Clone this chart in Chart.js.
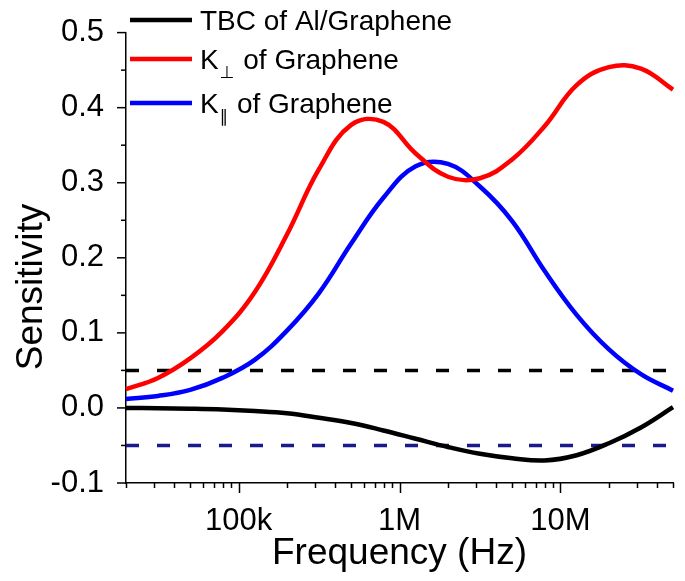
<!DOCTYPE html>
<html>
<head>
<meta charset="utf-8">
<script src="https://cdn.jsdelivr.net/npm/chart.js@4.4.1/dist/chart.umd.min.js"></script>
<style>
  html, body { margin: 0; padding: 0; background: #fff; }
  #wrap { width: 685px; height: 581px; }
</style>
</head>
<body>
<div id="wrap"><canvas id="sensChart"></canvas></div>
<script>
// frequency sweep (Hz), five points per decade, and the sensitivities read at each
const freqs = [2e4, 3.16e4, 5.01e4, 7.94e4, 1.26e5, 2e5, 3.16e5, 5.01e5, 7.94e5,
               1.26e6, 2e6, 3.16e6, 5.01e6, 7.94e6, 1.26e7, 2e7, 3.16e7, 5e7];
const tbcAl = [0.000, -0.0005, -0.001, -0.002, -0.004, -0.007, -0.013, -0.020, -0.030,
               -0.041, -0.052, -0.061, -0.067, -0.070, -0.063, -0.047, -0.026, 0.001];
const kPerp = [0.025, 0.040, 0.066, 0.102, 0.154, 0.231, 0.318, 0.377, 0.381,
               0.339, 0.308, 0.306, 0.331, 0.375, 0.430, 0.454, 0.452, 0.424];
const kPara = [0.012, 0.016, 0.024, 0.040, 0.064, 0.103, 0.153, 0.219, 0.280,
               0.322, 0.325, 0.295, 0.249, 0.183, 0.124, 0.078, 0.045, 0.023];
const seriesLabels = ['TBC of Al/Graphene', 'K⊥ of Graphene', 'K∥ of Graphene'];
const seriesColors = ['#000000', '#ff0000', '#0000ff'];

// ±0.05 guide lines
const thresholds = [0.05, -0.05];
const thresholdColors = ['#000000', '#1a1a8a'];

// axis ticks
const majorFreqs = [1e5, 1e6, 1e7];
const majorFreqLabels = ['100k', '1M', '10M'];
const yTickValues = [-0.1, 0.0, 0.1, 0.2, 0.3, 0.4, 0.5];
const yTickLabels = ['-0.1', '0.0', '0.1', '0.2', '0.3', '0.4', '0.5'];

const FONT = '"Liberation Sans", Arial, "DejaVu Sans", sans-serif';

const xTickValues = [];
[1e4, 1e5, 1e6, 1e7].forEach(d => {
  for (let m = 1; m <= 9; m++) {
    const v = m * d;
    if (v >= freqs[0] && v <= freqs[freqs.length - 1]) xTickValues.push(v);
  }
});

const toPoints = vals => freqs.map((f, i) => ({ x: f, y: vals[i] }));
const ends = [freqs[0], freqs[freqs.length - 1]];

const curveSets = [tbcAl, kPerp, kPara].map((vals, i) => ({
  label: seriesLabels[i],
  data: toPoints(vals),
  borderColor: seriesColors[i],
  borderWidth: 4.5,
  pointRadius: 0,
  tension: 0.4,
  clip: false
}));
const guideSets = thresholds.map((t, i) => ({
  label: 'guide' + i,
  data: ends.map(f => ({ x: f, y: t })),
  borderColor: thresholdColors[i],
  borderWidth: 3.5,
  borderDash: [13, 18],
  pointRadius: 0,
  clip: false
}));

// tick marks (major + minor), the y title and the in-plot legend
const decorations = {
  id: 'decorations',
  afterDraw(chart) {
    const ctx = chart.ctx;
    const xs = chart.scales.x, ys = chart.scales.y;
    const area = chart.chartArea;
    ctx.save();
    ctx.strokeStyle = '#000';
    ctx.lineWidth = 1.5;
    xTickValues.forEach(v => {
      const px = Math.round(xs.getPixelForValue(v)) + 0.5;
      const len = majorFreqs.includes(v) ? 10 : 5;
      ctx.beginPath();
      ctx.moveTo(px, area.bottom);
      ctx.lineTo(px, area.bottom + len);
      ctx.stroke();
    });
    yTickValues.forEach((v, i) => {
      const py = ys.getPixelForValue(v);
      ctx.beginPath();
      ctx.moveTo(area.left, py);
      ctx.lineTo(area.left - 9, py);
      ctx.stroke();
      if (i < yTickValues.length - 1) {
        const pm = ys.getPixelForValue((v + yTickValues[i + 1]) / 2);
        ctx.beginPath();
        ctx.moveTo(area.left, pm);
        ctx.lineTo(area.left - 5, pm);
        ctx.stroke();
      }
    });

    // y axis title
    ctx.fillStyle = '#000';
    ctx.font = '37px ' + FONT;
    ctx.textAlign = 'center';
    ctx.textBaseline = 'middle';
    ctx.translate(32, 287);
    ctx.rotate(-Math.PI / 2);
    ctx.fillText('Sensitivity', 0, 0);
    ctx.restore();

    // legend
    const rows = [20, 59, 103];
    ctx.save();
    ctx.textAlign = 'left';
    ctx.textBaseline = 'alphabetic';
    ctx.fillStyle = '#000';
    seriesLabels.forEach((lab, i) => {
      const y = rows[i];
      ctx.strokeStyle = seriesColors[i];
      ctx.lineWidth = 4.5;
      ctx.beginPath();
      ctx.moveTo(130, y);
      ctx.lineTo(192, y);
      ctx.stroke();
      const base = y + 10;
      let x = 200;
      ctx.font = '28px ' + FONT;
      if (lab[0] === 'K' && (lab[1] === '⊥' || lab[1] === '∥')) {
        ctx.fillText('K', x, base);
        x += ctx.measureText('K').width;
        ctx.font = '17px ' + FONT;
        ctx.fillText(lab[1], x + 1, base + 9);
        x += ctx.measureText(lab[1]).width + 2;
        ctx.font = '28px ' + FONT;
        ctx.fillText(lab.slice(2), x, base);
      } else {
        ctx.fillText(lab, x, base);
      }
    });
    ctx.restore();
  }
};

new Chart(document.getElementById('sensChart'), {
  type: 'line',
  data: { datasets: curveSets.concat(guideSets) },
  options: {
    responsive: true,
    maintainAspectRatio: false,
    animation: false,
    layout: { padding: { top: 32, right: 3.4, left: 0, bottom: 0 } },
    plugins: { legend: { display: false }, tooltip: { enabled: false } },
    scales: {
      x: {
        type: 'logarithmic',
        min: freqs[0],
        max: freqs[freqs.length - 1],
        afterBuildTicks: s => { s.ticks = xTickValues.map(v => ({ value: v, major: majorFreqs.includes(v) })); },
        afterFit: s => { s.height = 98; },
        grid: { display: false },
        border: { display: true, color: '#000', width: 1.5 },
        ticks: {
          autoSkip: false,
          maxRotation: 0,
          padding: 12,
          color: '#000',
          font: { family: FONT, size: 31 },
          callback: v => {
            const k = majorFreqs.indexOf(v);
            return k >= 0 ? majorFreqLabels[k] : '';
          }
        },
        title: {
          display: true,
          text: 'Frequency (Hz)',
          color: '#000',
          font: { family: FONT, size: 37 },
          padding: { top: 0, bottom: 5 }
        }
      },
      y: {
        min: yTickValues[0],
        max: yTickValues[yTickValues.length - 1],
        afterBuildTicks: s => { s.ticks = yTickValues.map(v => ({ value: v })); },
        afterFit: s => { s.width = 126; },
        grid: { display: false },
        border: { display: true, color: '#000', width: 1.5 },
        ticks: {
          padding: 14,
          color: '#000',
          font: { family: FONT, size: 31 },
          callback: (v, i) => yTickLabels[i]
        }
      }
    }
  },
  plugins: [decorations]
});
</script>
</body>
</html>
